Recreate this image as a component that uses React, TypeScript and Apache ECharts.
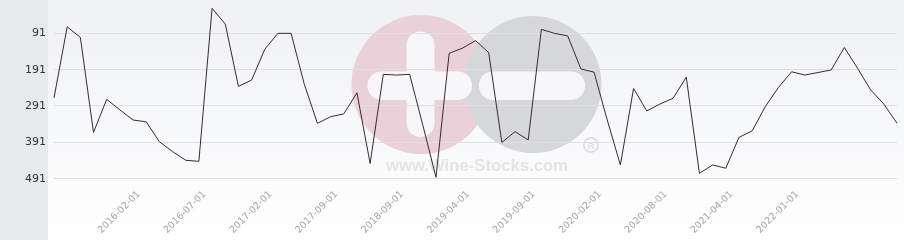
import React, { useEffect, useRef } from "react";
import * as echarts from "echarts";

// Ranking values, one per observation (inverted axis: low = top)
const values: number[] = [
  270, 74, 103, 365, 274, 303, 331, 336, 391, 418, 442, 445, 23, 66, 238, 221,
  136, 92, 92, 232, 340, 322, 314, 256, 451, 205, 207, 205, 345, 489, 147, 133,
  112, 145, 393, 363, 386, 81, 92, 99, 190, 199, 331, 455, 244, 306, 287, 271,
  213, 478, 455, 464, 379, 361, 294, 241, 198, 207, 200, 193, 131, 188, 248, 287,
  340,
];

// Date labels shown on the x axis, with the observation index they sit on
const labelIndices: number[] = [6, 11, 16, 21, 26, 31, 36, 41, 46, 51, 56];
const labelDates: string[] = [
  "2016-02-01", "2016-07-01", "2017-02-01", "2017-09-01", "2018-09-01",
  "2019-04-01", "2019-09-01", "2020-02-01", "2020-08-01", "2021-04-01",
  "2022-01-01",
];

const yTicks: number[] = [91, 191, 291, 391, 491];

export default function App() {
  const ref = useRef<HTMLDivElement>(null);

  useEffect(() => {
    if (!ref.current) return;
    const chart = echarts.init(ref.current, null, { renderer: "svg" });

    const categories = values.map((_, i) => {
      const k = labelIndices.indexOf(i);
      return k >= 0 ? labelDates[k] : "";
    });

    chart.setOption({
      animation: false,
      graphic: [
        {
          type: "rect",
          z: -100,
          silent: true,
          shape: { x: 0, y: 0, width: 48, height: 240 },
          style: { fill: "#e7eaed" },
        },
        {
          type: "rect",
          z: -100,
          silent: true,
          shape: { x: 48, y: 0, width: 856, height: 240 },
          style: {
            fill: new echarts.graphic.LinearGradient(0, 0, 0, 1, [
              { offset: 0, color: "#eff1f5" },
              { offset: 1, color: "#ffffff" },
            ]),
          },
        },
        {
          type: "circle",
          z: -50,
          silent: true,
          shape: { cx: 421, cy: 84.5, r: 69.5 },
          style: { fill: "#ead0d9" },
        },
        {
          type: "circle",
          z: -49,
          silent: true,
          shape: { cx: 533, cy: 84.5, r: 68.5 },
          style: { fill: "#d6d7da" },
        },
        {
          type: "rect",
          z: -48,
          silent: true,
          shape: { x: 406.5, y: 31.5, width: 28, height: 105.5, r: 14 },
          style: { fill: "#f7f7f9" },
        },
        {
          type: "rect",
          z: -48,
          silent: true,
          shape: { x: 367.5, y: 71.5, width: 104.5, height: 28.5, r: 14 },
          style: { fill: "#f7f7f9" },
        },
        {
          type: "rect",
          z: -48,
          silent: true,
          shape: { x: 479, y: 71.5, width: 106, height: 28.5, r: 14 },
          style: { fill: "#f7f7f9" },
        },
        {
          type: "text",
          z: -48,
          silent: true,
          x: 477,
          y: 165,
          style: {
            text: "www.Wine-Stocks.com",
            fill: "#e4e4e7",
            font: "bold 16.7px 'Liberation Sans', Arial, sans-serif",
            textAlign: "center",
            textVerticalAlign: "middle",
          },
        },
        {
          type: "circle",
          z: -48,
          silent: true,
          shape: { cx: 591, cy: 145, r: 7 },
          style: { fill: "none", stroke: "#dcdcdf", lineWidth: 1.6 },
        },
        {
          type: "text",
          z: -48,
          silent: true,
          x: 591,
          y: 145.5,
          style: {
            text: "R",
            fill: "#dcdcdf",
            font: "bold 9px 'Liberation Sans', Arial, sans-serif",
            textAlign: "center",
            textVerticalAlign: "middle",
          },
        },
      ],
      grid: {
        left: 54,
        right: 7,
        top: 0,
        bottom: 50,
        containLabel: false,
        outerBoundsMode: "none",
      },
      xAxis: {
        type: "category",
        data: categories,
        boundaryGap: false,
        axisLine: { show: false },
        axisTick: { show: false },
        splitLine: { show: false },
        axisLabel: {
          interval: (i: number, v: string) => v !== "",
          rotate: 45,
          margin: -3,
          verticalAlign: "top",
          lineHeight: 14,
          color: "#a4a4a8",
          fontSize: 9.5,
          fontFamily: "DejaVu Sans",
        },
      },
      yAxis: {
        type: "value",
        inverse: true,
        min: 0,
        max: 524,
        axisLine: { show: false },
        axisTick: { show: false, customValues: yTicks },
        axisLabel: {
          customValues: yTicks,
          color: "#333333",
          fontSize: 11,
          fontFamily: "DejaVu Sans",
          margin: 8,
        },
        splitLine: { show: true, lineStyle: { color: "#dfe0e6", width: 1 } },
      },
      series: [
        {
          type: "line",
          data: values,
          showSymbol: false,
          symbol: "none",
          lineStyle: { color: "#3a2833", width: 1 },
        },
      ],
    });

    return () => chart.dispose();
  }, []);

  return (
    <div
      ref={ref}
      style={{ position: "fixed", left: 0, top: 0, width: 904, height: 240 }}
    />
  );
}
